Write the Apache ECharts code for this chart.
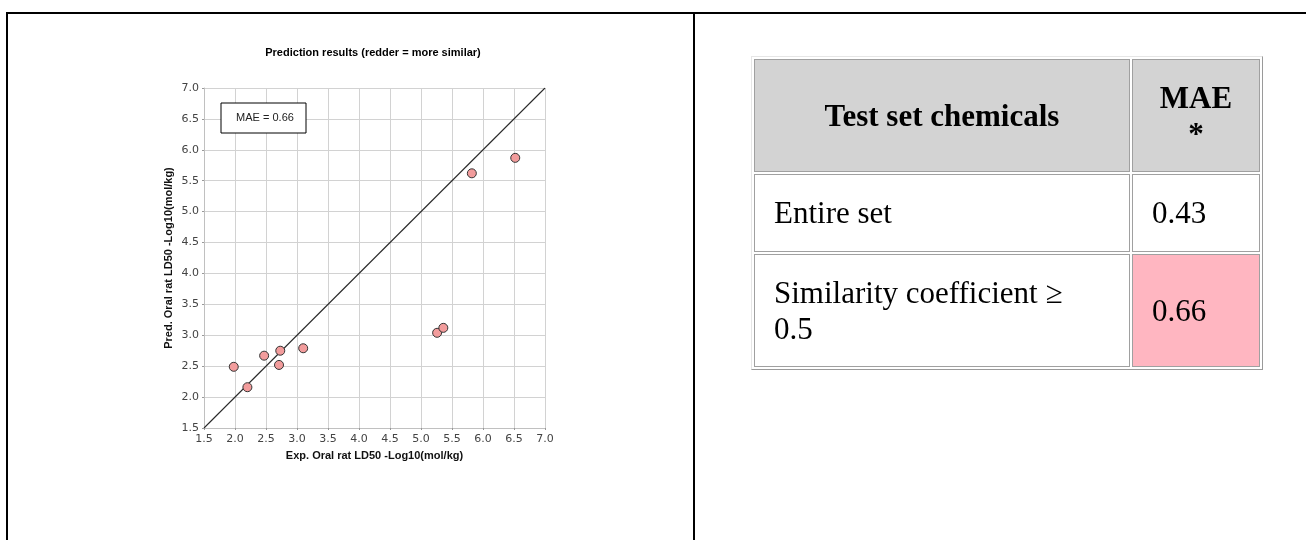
<!DOCTYPE html>
<html>
<head>
<meta charset="utf-8">
<script src="https://cdn.jsdelivr.net/npm/echarts@6/dist/echarts.min.js"></script>
<style>
  html, body { margin: 0; padding: 0; background: #fff; }
  body { width: 1306px; height: 540px; position: relative; overflow: hidden; }
  #chart { position: absolute; left: 0; top: 0; width: 1306px; height: 540px; }
  .frame { position: absolute; background: #000; }
  #tbl { position: absolute; left: 751px; top: 56px; border-collapse: separate; border-spacing: 2px;
         border: 1px solid; border-color: #e6e6e6 #9a9a9a #9a9a9a #e6e6e6;
         font-family: "Liberation Serif", "Times New Roman", serif; font-size: 31px; color: #000; }
  #tbl td { border: 1px solid #a0a0a0; padding: 0 0 0 19px; vertical-align: middle; }
  #tbl th { border: 1px solid #a0a0a0; background: #d3d3d3; font-weight: bold; padding: 0; line-height: 36px; }
</style>
</head>
<body>
<div id="chart"></div>
<div class="frame" style="left:6px; top:12px; width:1300px; height:2px;"></div>
<div class="frame" style="left:6px; top:12px; width:2px; height:528px;"></div>
<div class="frame" style="left:693px; top:12px; width:2px; height:528px;"></div>
<table id="tbl"></table>
<script>
// ---- data ----
const expValues  = [1.98, 2.20, 2.47, 2.73, 2.71, 3.10, 5.26, 5.36, 5.82, 6.52];
const predValues = [2.49, 2.16, 2.67, 2.75, 2.52, 2.79, 3.04, 3.12, 5.62, 5.87];
const identityEnds = [1.5, 7.0];
const axisMin = 1.5, axisMax = 7.0, axisStep = 0.5;
const chartTitle = "Prediction results (redder = more similar)";
const xName = "Exp. Oral rat LD50 -Log10(mol/kg)";
const yName = "Pred. Oral rat LD50 -Log10(mol/kg)";
const maeLabel = "MAE = 0.66";
const tableHeader = ["Test set chemicals", "MAE<br>*"];
const tableRowNames = ["Entire set", "Similarity coefficient \u2265<br>0.5"];
const tableRowValues = ["0.43", "0.66"];

// ---- table ----
const tbl = document.getElementById('tbl');
let html = '<tr style="height:113px"><th style="width:374px">' + tableHeader[0] + '</th><th style="width:126px">' + tableHeader[1] + '</th></tr>';
const rowHeights = [78, 113];
tableRowNames.forEach((n, i) => {
  const pink = i === 1 ? ' style="background:#ffb6c1"' : '';
  html += '<tr style="height:' + rowHeights[i] + 'px"><td>' + n + '</td><td' + pink + '>' + tableRowValues[i] + '</td></tr>';
});
tbl.innerHTML = html;

// ---- chart ----
const chart = echarts.init(document.getElementById('chart'), null, { renderer: 'canvas' });
const pts = expValues.map((x, i) => [x, predValues[i]]);
const axisCommon = {
  type: 'value', min: axisMin, max: axisMax, interval: axisStep,
  nameLocation: 'middle',
  nameTextStyle: { fontFamily: 'Liberation Sans', fontWeight: 'bold', fontSize: 11, color: '#111' },
  axisLine: { show: true, lineStyle: { color: '#c0c0c0', width: 1 } },
  axisTick: { show: true, length: 2, lineStyle: { color: '#999' } },
  axisLabel: { fontFamily: 'DejaVu Sans', fontSize: 11, color: '#444', formatter: v => v.toFixed(1) },
  splitLine: { show: true, lineStyle: { color: '#d2d2d2', width: 1 } }
};
chart.setOption({
  animation: false,
  grid: { left: 204, top: 88, width: 341, height: 340, containLabel: false },
  xAxis: Object.assign({}, axisCommon, { name: xName, nameGap: 22,
    axisLabel: Object.assign({}, axisCommon.axisLabel, { margin: 6 }) }),
  yAxis: Object.assign({}, axisCommon, { name: yName, nameGap: 30,
    axisLabel: Object.assign({}, axisCommon.axisLabel, { margin: 5 }) }),
  series: [
    { type: 'line', data: identityEnds.map(v => [v, v]), symbol: 'none', silent: true,
      lineStyle: { color: '#2a2a2a', width: 1.1 }, z: 2 },
    { type: 'scatter', data: pts, symbol: 'circle', symbolSize: 9,
      itemStyle: { color: '#f29c9c', borderColor: '#333', borderWidth: 1, opacity: 1 }, z: 3 }
  ],
  graphic: [
    { type: 'text', x: 373, y: 47, z: 10, style: { text: chartTitle, fontFamily: 'Liberation Sans', fontWeight: 'bold', fontSize: 11, fill: '#000', textAlign: 'center' } },
    { type: 'group', x: 221, y: 103, z: 10, children: [
      { type: 'rect', z: 10, shape: { x: 0, y: 0, width: 85, height: 30 }, style: { fill: '#fff', stroke: '#000', lineWidth: 1 } },
      { type: 'text', z: 11, style: { x: 44, y: 15, text: maeLabel, fontFamily: 'Liberation Sans', fontSize: 11, fill: '#222', textAlign: 'center', textVerticalAlign: 'middle' } }
    ] }
  ]
});
</script>
</body>
</html>
